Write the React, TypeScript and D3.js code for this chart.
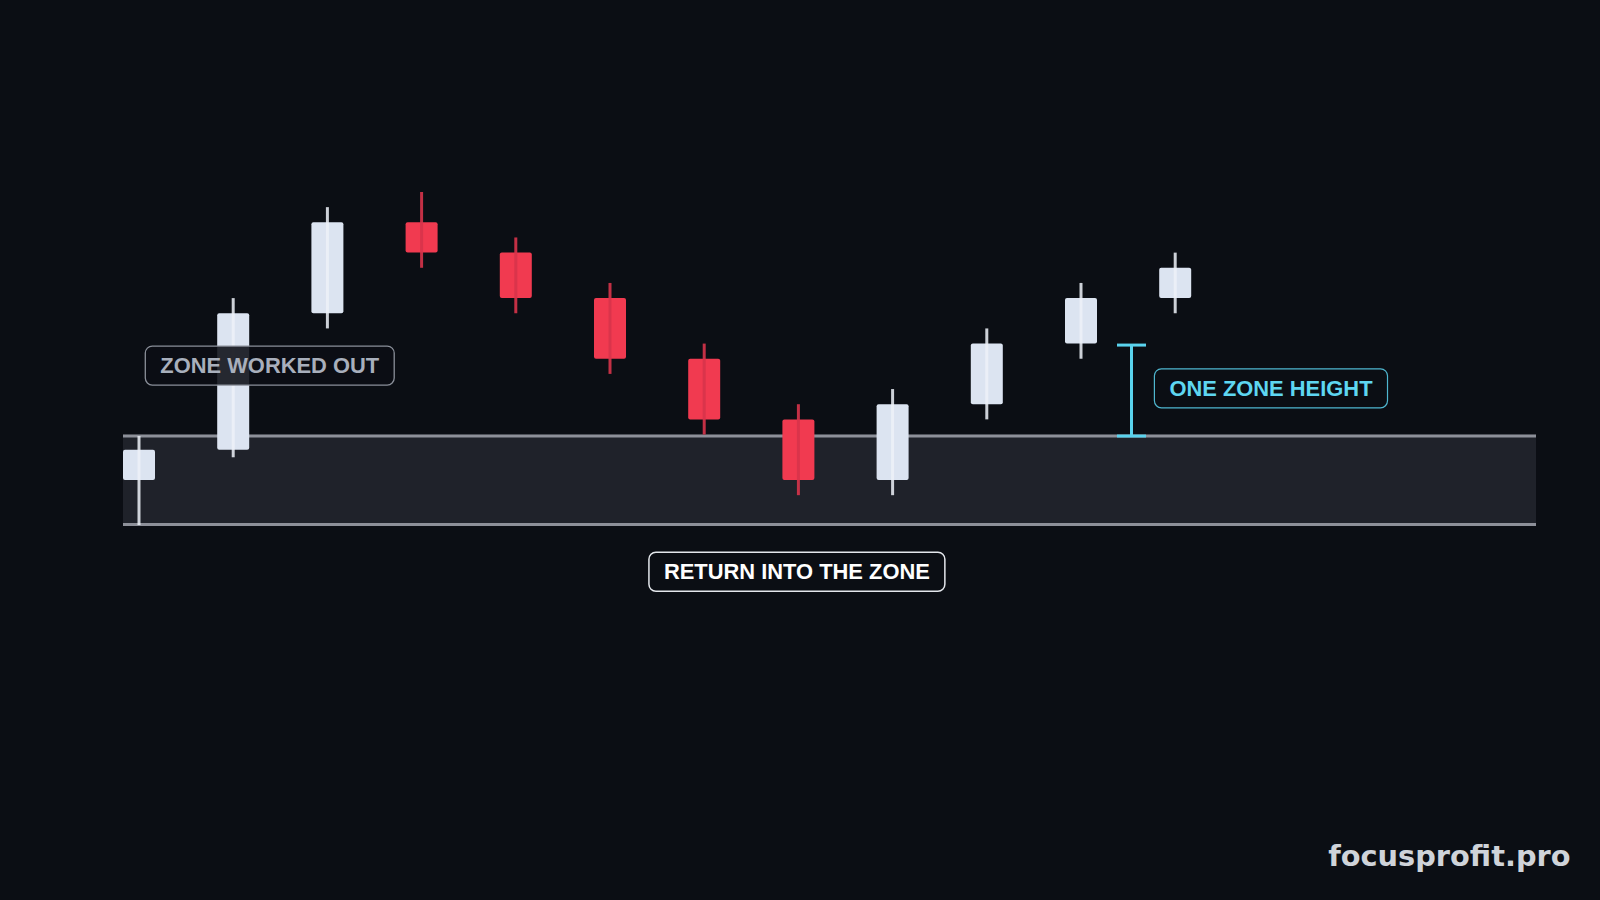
import React, { useEffect, useRef } from "react";
import * as d3 from "d3";

// ---- data ----
const candleIds = ["c1", "c2", "c3", "c4", "c5", "c6", "c7", "c8", "c9", "c10", "c11", "c12"];
const opens = [103, 105, 114, 120, 118, 115, 111, 107, 103, 108, 112, 115];
const highs = [106, 115, 121, 122, 119, 116, 112, 108, 109, 113, 116, 118];
const lows = [100, 104.5, 113, 117, 114, 110, 106, 102, 102, 107, 111, 114];
const closes = [105, 114, 120, 118, 115, 111, 107, 103, 108, 112, 115, 117];
const zoneLow = 100;
const zoneHigh = 106;
const slotCount = 15;

const labelWorkedOut = "ZONE WORKED OUT";
const labelReturn = "RETURN INTO THE ZONE";
const labelHeight = "ONE ZONE HEIGHT";
const watermark = "focusprofit.pro";

const W = 1600;
const H = 900;

export default function App() {
  const ref = useRef<SVGSVGElement | null>(null);

  useEffect(() => {
    const svg = d3.select(ref.current);
    svg.selectAll("*").remove();

    const x = d3.scaleBand<number>().domain(d3.range(slotCount)).range([123, 1536]).paddingInner(0).paddingOuter(0);
    const y = d3.scaleLinear().domain([100, 120]).range([525.5, 222.3]);
    const bodyW = 32;
    const cx = (i: number) => (x(i) as number) + bodyW / 2;

    svg.append("rect").attr("width", W).attr("height", H).attr("fill", "#0b0e14");

    // zone
    const zx0 = x.range()[0];
    const zx1 = x.range()[1];
    svg.append("rect")
      .attr("x", zx0).attr("y", y(zoneHigh))
      .attr("width", zx1 - zx0).attr("height", y(zoneLow) - y(zoneHigh))
      .attr("fill", "#1f222a");
    [y(zoneHigh) + 1.5, y(zoneLow) - 1].forEach((yy) => {
      svg.append("line")
        .attr("x1", zx0).attr("x2", zx1).attr("y1", yy).attr("y2", yy)
        .attr("stroke", "#8d9099").attr("stroke-width", 3);
    });

    const data = candleIds.map((id, i) => ({ id, i, o: opens[i], h: highs[i], l: lows[i], c: closes[i] }));

    const g = svg.append("g");
    data.forEach((d) => {
      const bull = d.c >= d.o;
      const bodyFill = bull ? "#dce4f1" : "#f13a50";
      const wickCol = bull ? "#eef2f9" : "#d8344b";
      const top = y(Math.max(d.o, d.c));
      const bot = y(Math.min(d.o, d.c));
      g.append("rect")
        .attr("x", x(d.i) as number).attr("y", top)
        .attr("width", bodyW).attr("height", bot - top)
        .attr("rx", 2).attr("fill", bodyFill);
      g.append("line")
        .attr("x1", cx(d.i)).attr("x2", cx(d.i))
        .attr("y1", y(d.h) + (d.i === 0 ? 1.5 : 0)).attr("y2", y(d.l) - (d.i === 0 ? 0.5 : 0))
        .attr("stroke", wickCol).attr("stroke-width", 3).attr("opacity", bull ? 0.85 : 0.9);
    });

    // measurement bracket (one zone height above zone)
    const bx = (x(10) as number) + 66.5;
    const by0 = y(zoneHigh + (zoneHigh - zoneLow)) + 1.5;
    const by1 = y(zoneHigh) + 1.5;
    const cyan = "#5ad3ee";
    const br = svg.append("g").attr("stroke", cyan).attr("stroke-width", 3);
    br.append("line").attr("x1", bx).attr("x2", bx).attr("y1", by0).attr("y2", by1);
    br.append("line").attr("x1", bx - 14.5).attr("x2", bx + 14.5).attr("y1", by0).attr("y2", by0);
    br.append("line").attr("x1", bx - 14.5).attr("x2", bx + 14.5).attr("y1", by1).attr("y2", by1);

    // labels
    const font = "'Liberation Sans', Arial, sans-serif";
    function label(text: string, anchorX: number, centerY: number, align: "left" | "center", textCol: string, stroke: string, strokeW: number, fill: string) {
      const lg = svg.append("g");
      const rect = lg.append("rect");
      const t = lg.append("text")
        .attr("font-family", font).attr("font-weight", 700).attr("font-size", 21.9)
        .attr("fill", textCol).text(text);
      const tw = (t.node() as SVGTextElement).getComputedTextLength();
      const padX = 15;
      const bw = tw + padX * 2;
      const bh = 39;
      const left = align === "left" ? anchorX : anchorX - bw / 2;
      rect.attr("x", left).attr("y", centerY - bh / 2).attr("width", bw).attr("height", bh)
        .attr("rx", 7).attr("fill", fill).attr("stroke", stroke).attr("stroke-width", strokeW);
      t.attr("x", left + padX).attr("y", centerY + 7.6);
    }

    label(labelWorkedOut, (x(0) as number) + 22.3, y(110.55), "left", "#a8afbc", "#8a8f99", 1.3, "rgba(11,14,20,0.88)");
    label(labelReturn, cx(7) - 1.5, y(96.95), "center", "#ffffff", "#e4e7ec", 1.5, "#0b0e14");
    label(labelHeight, (x(11) as number) - 4.8, y(109.05), "left", "#5ed6f1", "#4fb6cf", 1.2, "#0b0e14");

    svg.append("text")
      .attr("x", 1570.5).attr("y", 865.5)
      .attr("text-anchor", "end")
      .attr("font-family", "'DejaVu Sans', sans-serif").attr("font-weight", 700).attr("font-size", 28.8)
      .attr("fill", "#cfd3d9").text(watermark);
  }, []);

  return (
    <svg ref={ref} width={W} height={H} style={{ position: "fixed", left: 0, top: 0, display: "block" }} />
  );
}
